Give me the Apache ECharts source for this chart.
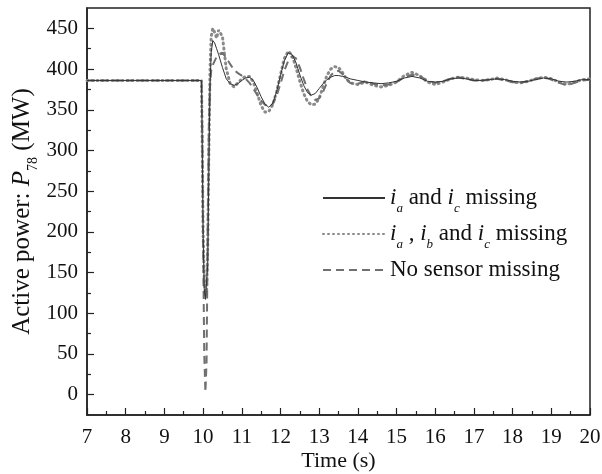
<!DOCTYPE html>
<html>
<head>
<meta charset="utf-8">
<script src="https://cdn.jsdelivr.net/npm/echarts@6/dist/echarts.min.js"></script>
<style>
  html, body { margin: 0; padding: 0; background: #fff; }
  #chart { width: 602px; height: 474px; }
</style>
</head>
<body>
<div id="chart"></div>
<script>
// Simulation time instants (s), shared by all three traces
const time = [
  7.0, 9.96, 9.98, 10.0, 10.03, 10.06, 10.09, 10.12, 10.15, 10.18, 10.21,
  10.25, 10.30, 10.35, 10.40, 10.45, 10.50, 10.55, 10.60, 10.70, 10.80, 10.90,
  11.0, 11.1, 11.2, 11.3, 11.4, 11.5, 11.6, 11.7, 11.8, 11.9,
  12.0, 12.1, 12.2, 12.3, 12.4, 12.5, 12.6, 12.7, 12.8, 12.9,
  13.0, 13.1, 13.2, 13.3, 13.4, 13.5, 13.6, 13.7, 13.8,
  14.0, 14.2, 14.4, 14.6, 14.8, 15.0, 15.2, 15.4, 15.6, 15.8,
  16.0, 16.2, 16.4, 16.6, 16.8, 17.0, 17.2, 17.4, 17.6, 17.8,
  18.0, 18.2, 18.4, 18.6, 18.8, 19.0, 19.2, 19.4, 19.6, 19.8, 20.0
];

// Active power P78 (MW), i_a and i_c missing
const pAC = [
  386, 386, 300, 200, 130, 117, 117, 160, 280, 380, 420,
  435, 432, 425, 418, 410, 402, 395, 388, 382, 380, 382,
  386, 389, 390, 386, 377, 366, 357, 353, 358, 372,
  392, 410, 420, 418, 408, 393, 380, 371, 368, 370,
  376, 382, 387, 390, 392, 392, 391, 390, 388,
  386, 384, 383, 382, 383, 385, 389, 391, 389, 385,
  384, 385, 388, 389, 388, 386, 386, 387, 388, 387,
  385, 384, 385, 387, 389, 388, 385, 384, 385, 387, 387
];

// Active power P78 (MW), i_a, i_b and i_c missing
const pABC = [
  386, 386, 300, 200, 140, 122, 125, 180, 300, 400, 440,
  450, 445, 438, 448, 450, 440, 420, 400, 382, 378, 383,
  388, 391, 391, 384, 370, 355, 347, 348, 356, 372,
  393, 413, 422, 417, 402, 385, 370, 360, 356, 357,
  364, 378, 392, 400, 403, 402, 396, 388, 383,
  381, 384, 380, 378, 380, 384, 392, 396, 392, 384,
  381, 384, 388, 390, 389, 387, 386, 387, 389, 387,
  384, 383, 385, 388, 390, 388, 384, 381, 384, 387, 388
];

// Active power P78 (MW), no sensor missing
const pNone = [
  386, 386, 320, 190, 50, 3, 40, 200, 330, 380, 398,
  405, 410, 415, 418, 420, 420, 418, 414, 406, 399, 395,
  392, 388, 383, 376, 368, 361, 356, 354, 357, 367,
  382, 398, 410, 416, 413, 402, 388, 375, 366, 362,
  364, 372, 383, 392, 397, 398, 394, 388, 383,
  382, 385, 382, 380, 381, 384, 390, 393, 391, 386,
  383, 385, 388, 390, 388, 386, 386, 387, 388, 386,
  384, 383, 385, 388, 390, 387, 383, 380, 383, 386, 387
];

// Axis tick values
const yMajorTicks = [0, 50, 100, 150, 200, 250, 300, 350, 400, 450];
const yMinorTicks = [25, 75, 125, 175, 225, 275, 325, 375, 425];

const seriesNames = ['ac', 'abc', 'none'];
const legendText = {
  ac: '{i|i}{s|a} and {i|i}{s|c} missing',
  abc: '{i|i}{s|a} , {i|i}{s|b} and {i|i}{s|c} missing',
  none: 'No sensor missing'
};

const pairs = vals => time.map((t, k) => [t, vals[k]]);

const FONT = 'Liberation Serif';
const INK = '#111';
const AXIS = '#222';

const chart = echarts.init(document.getElementById('chart'), null, { renderer: 'canvas' });

chart.setOption({
  animation: false,
  backgroundColor: '#fff',
  grid: {
    left: 87, right: 12, top: 8, bottom: 59,
    outerBoundsMode: 'none',
    containLabel: false,
    show: true, borderColor: AXIS, borderWidth: 1.5, backgroundColor: 'transparent'
  },
  legend: {
    data: seriesNames,
    orient: 'vertical',
    left: 317, top: 176,
    itemWidth: 62, itemHeight: 14, itemGap: 2,
    formatter: name => legendText[name],
    itemStyle: { opacity: 0, borderWidth: 0 },
    textStyle: {
      fontFamily: FONT, fontSize: 23, color: INK, lineHeight: 34,
      rich: {
        i: { fontFamily: FONT, fontSize: 23, fontStyle: 'italic', color: INK, lineHeight: 34 },
        s: { fontFamily: FONT, fontSize: 13, fontStyle: 'italic', color: INK, lineHeight: 13, verticalAlign: 'bottom' }
      }
    }
  },
  xAxis: {
    type: 'value', min: 7, max: 20, interval: 1,
    name: 'Time (s)', nameLocation: 'middle', nameGap: 35, nameMoveOverlap: false,
    nameTextStyle: { fontFamily: FONT, fontSize: 22, color: INK },
    axisLine: { onZero: false, lineStyle: { color: AXIS, width: 1.5 } },
    axisTick: { inside: true, length: 7, lineStyle: { color: AXIS, width: 1.2 } },
    minorTick: { show: true, splitNumber: 2, length: 4, lineStyle: { color: AXIS, width: 1.2 } },
    axisLabel: { fontFamily: FONT, fontSize: 21, color: INK, margin: 12 },
    splitLine: { show: false }
  },
  yAxis: [
    {
      type: 'value', min: -25, max: 475, interval: 25,
      position: 'left',
      name: '{t|Active power: }{p|P}{s|78}{t| (MW)}',
      nameLocation: 'middle', nameGap: 47, nameMoveOverlap: false,
      nameTextStyle: {
        fontFamily: FONT, fontSize: 25, color: INK, lineHeight: 36,
        rich: {
          t: { fontFamily: FONT, fontSize: 25, color: INK, lineHeight: 36 },
          p: { fontFamily: FONT, fontSize: 25, fontStyle: 'italic', color: INK, lineHeight: 36 },
          s: { fontFamily: FONT, fontSize: 14, color: INK, lineHeight: 14, verticalAlign: 'bottom' }
        }
      },
      axisLine: { show: true, onZero: false, lineStyle: { color: AXIS, width: 1.5 } },
      axisTick: { inside: true, length: 7, customValues: yMajorTicks, lineStyle: { color: AXIS, width: 1.2 } },
      axisLabel: { fontFamily: FONT, fontSize: 21, color: INK, margin: 9, customValues: yMajorTicks },
      splitLine: { show: false }
    },
    {
      type: 'value', min: -25, max: 475, interval: 25,
      position: 'left', offset: 0,
      axisLine: { show: false, onZero: false },
      axisTick: { inside: true, length: 4, customValues: yMinorTicks, lineStyle: { color: AXIS, width: 1.2 } },
      axisLabel: { show: false },
      splitLine: { show: false }
    }
  ],
  series: [
    {
      name: 'abc', type: 'line', data: pairs(pABC), showSymbol: false, symbol: 'none',
      lineStyle: { color: '#8a8a8a', width: 3, type: [1, 4], cap: 'round' },
      itemStyle: { color: '#8a8a8a' }, z: 2
    },
    {
      name: 'none', type: 'line', data: pairs(pNone), showSymbol: false, symbol: 'none',
      lineStyle: { color: '#707070', width: 2, type: [8, 5] },
      itemStyle: { color: '#707070' }, z: 3
    },
    {
      name: 'ac', type: 'line', data: pairs(pAC), showSymbol: false, symbol: 'none',
      lineStyle: { color: '#333', width: 1 },
      itemStyle: { color: '#333' }, z: 4
    }
  ]
});
</script>
</body>
</html>
